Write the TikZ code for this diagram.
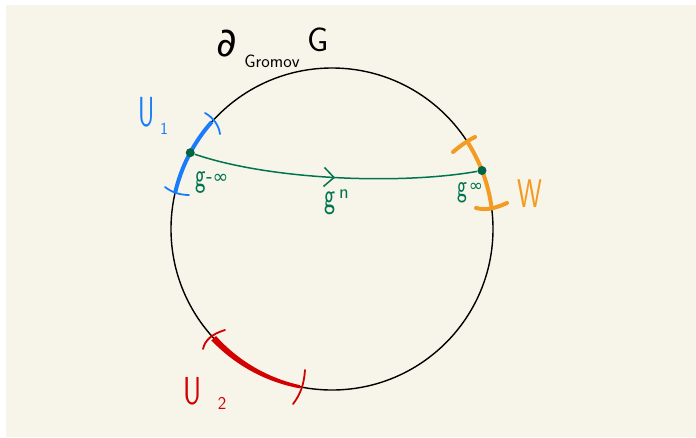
\documentclass[tikz,border=0pt]{standalone}
\usepackage{fontspec}
\usepackage{graphicx}
\newfontfamily\symfont{DejaVu Sans}
\usetikzlibrary{arrows.meta,decorations.markings}
\definecolor{cream}{HTML}{F7F5E9}
\definecolor{ublue}{RGB}{25,125,250}
\definecolor{worange}{RGB}{243,155,35}
\definecolor{ured}{RGB}{210,0,0}
\definecolor{ggreen}{RGB}{0,115,80}
\definecolor{gdot}{RGB}{0,100,70}
\tikzset{
  dotnode/.style={circle,fill=gdot,inner sep=0pt,minimum size=9pt},
  lbl/.style={inner sep=0pt},
  tick/.style={line width=1.8pt,line cap=round},
  fsz/.style={font=\fontsize{#1}{#1}\selectfont\sffamily},
  ssz/.style={font=\fontsize{#1}{#1}\selectfont\symfont}
}
\begin{document}
\begin{tikzpicture}[x=1pt,y=1pt]
\useasboundingbox (0,0) rectangle (696,-437);
\fill[cream] (6,-5) rectangle (696,-437);
\coordinate (C) at (332,-229);
% boundary circle
\draw[line width=1.4pt] (C) circle[radius=161];
% U1 (blue) arc
\draw[ublue,line width=4pt] ([shift={(C)}]138.3:161) arc[start angle=138.3,end angle=167.1,radius=161];
\draw[ublue,tick] (205,-113) .. controls (214,-118) and (219,-126) .. (220,-134);
\draw[ublue,tick] (165,-187) .. controls (170,-191) and (178,-195) .. (189,-195);
% W (orange) arc
\draw[worange,line width=4pt] ([shift={(C)}]33.3:161) arc[start angle=33.3,end angle=7.5,radius=161];
\draw[worange,line width=4pt,line cap=round] (453,-152) .. controls (460,-146) and (467,-141) .. (475,-137);
\draw[worange,line width=4pt,line cap=round] (476,-208) .. controls (488,-211) and (498,-207) .. (507,-203);
% U2 (red) arc, tapering
\fill[ured] plot[domain=222.7:258.5,samples=40] ({332+(161+3.2-1.6*(\x-222.7)/35.8)*cos(\x)},{-229+(161+3.2-1.6*(\x-222.7)/35.8)*sin(\x)})
  -- plot[domain=258.5:222.7,samples=40] ({332+(161-3.2+1.6*(\x-222.7)/35.8)*cos(\x)},{-229+(161-3.2+1.6*(\x-222.7)/35.8)*sin(\x)}) -- cycle;
\draw[ured,tick] (203,-349) .. controls (205,-340) and (212,-334) .. (225,-330);
\draw[ured,tick] (305,-370) .. controls (304,-385) and (300,-395) .. (293,-404);
% geodesic
\node[dotnode] (gm) at ([shift={(C)}]151.7:161) {};
\node[dotnode] (gp) at ([shift={(C)}]21.3:161) {};
\draw[ggreen,line width=1.5pt,
  postaction={decorate},
  decoration={markings,mark=at position 0.5 with {\arrow{Straight Barb[length=10pt,width=19pt,line width=1.5pt]}}}]
  (gm) .. controls (270,-180) and (400,-185) .. (gp);
% labels
\node[lbl,ssz=40] (del) at (227,-44) {∂};
\node[lbl,fsz=18] (grom) at (272,-61) {Gromov};
\node[lbl,fsz=34] (gG) at (318,-40) {G};
\node[lbl,fsz=42,text=ublue] (u1) at (147,-112) {\scalebox{0.6}[1]{U}};
\node[lbl,fsz=17,text=ublue] (u1s) at (164,-129) {1};
\node[lbl,fsz=40,text=worange] (w) at (530,-194) {\scalebox{0.7}[1]{W}};
\node[lbl,fsz=39,text=ured] (u2) at (193,-391) {\scalebox{0.72}[1]{U}};
\node[lbl,fsz=18,text=ured] (u2s) at (222,-403) {2};
\node[lbl,fsz=34,text=ggreen,anchor=base] (g1) at (201,-186) {\scalebox{0.65}[1]{g}};
\node[lbl,ssz=19,text=ggreen] (g1s) at (217,-179) {-∞};
\node[lbl,fsz=32,text=ggreen,anchor=base] (g2) at (462,-196) {\scalebox{0.65}[1]{g}};
\node[lbl,ssz=17,text=ggreen] (g2s) at (476,-187) {∞};
\node[lbl,fsz=36,text=ggreen,anchor=base] (g3) at (330,-207) {\scalebox{0.65}[1]{g}};
\node[lbl,fsz=20,text=ggreen] (g3s) at (344,-194) {n};
\end{tikzpicture}
\end{document}
